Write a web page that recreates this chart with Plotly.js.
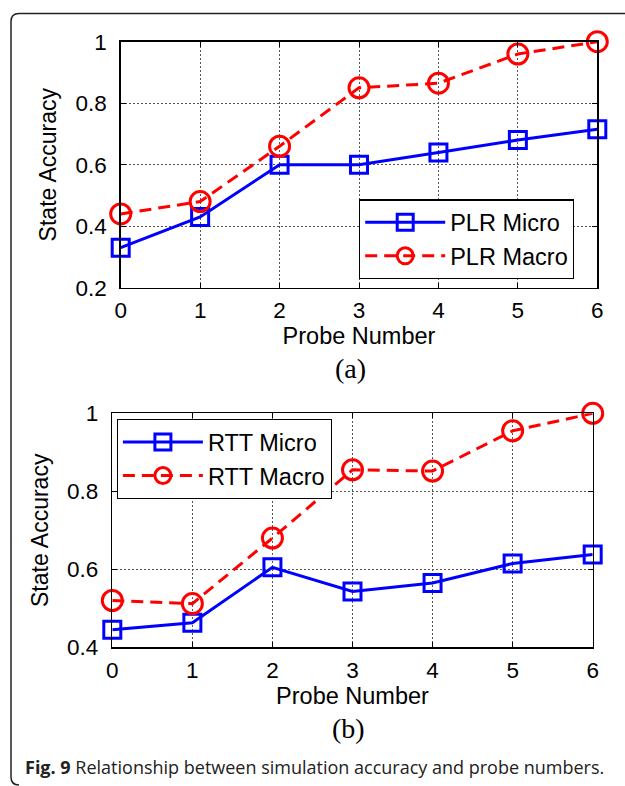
<!DOCTYPE html>
<html>
<head>
<meta charset="utf-8">
<script src="https://cdn.plot.ly/plotly-3.0.1.min.js"></script>
<style>
  html, body { margin: 0; padding: 0; background: #ffffff; }
  #chart { width: 625px; height: 786px; }
</style>
</head>
<body>
<div id="chart"></div>
<script>
// ---- data ----
const probeNumbers = [0, 1, 2, 3, 4, 5, 6];
const plrMicro = [0.33, 0.43, 0.60, 0.60, 0.64, 0.68, 0.715];
const plrMacro = [0.44, 0.48, 0.66, 0.85, 0.865, 0.96, 1.00];
const rttMicro = [0.445, 0.463, 0.605, 0.543, 0.565, 0.615, 0.638];
const rttMacro = [0.52, 0.512, 0.68, 0.855, 0.852, 0.955, 1.00];

const xTickVals = [0, 1, 2, 3, 4, 5, 6];
const xTickText = ["0", "1", "2", "3", "4", "5", "6"];
const yTickValsA = [0.2, 0.4, 0.6, 0.8, 1.0];
const yTickTextA = ["0.2", "0.4", "0.6", "0.8", "1"];
const yTickValsB = [0.4, 0.6, 0.8, 1.0];
const yTickTextB = ["0.4", "0.6", "0.8", "1"];

const seriesNames = ["PLR Micro", "PLR Macro", "RTT Micro", "RTT Macro"];
const xTitle = "Probe Number";
const yTitle = "State Accuracy";
const panelLabels = ["(a)", "(b)"];
const captionBold = "Fig. 9";
const captionText = " Relationship between simulation accuracy and probe numbers.";

// ---- styling helpers ----
const W = 625, H = 786;
const px = v => v / W;
const py = v => 1 - v / H;

const BLUE = "#0000ff", RED = "#ff0000";
const sansFont = "Liberation Sans, Arial, Helvetica, sans-serif";

function microTrace(x, y, name, xa, ya, legend) {
  return {
    x: x, y: y, name: name, xaxis: xa, yaxis: ya, legend: legend,
    legendgroup: name,
    type: "scatter", mode: "lines+markers", cliponaxis: false,
    line: { color: BLUE, width: 3 },
    marker: { symbol: "square-open", size: 17, color: BLUE, line: { color: BLUE, width: 3 } }
  };
}
function macroTrace(x, y, name, xa, ya, legend) {
  return {
    x: x, y: y, name: name, xaxis: xa, yaxis: ya, legend: legend,
    legendgroup: name,
    type: "scatter", mode: "lines+markers", cliponaxis: false,
    line: { color: RED, width: 3, dash: "12px,7px" },
    marker: { symbol: "circle-open", size: 20, color: RED, line: { color: RED, width: 3 } }
  };
}

const traces = [
  microTrace(probeNumbers, plrMicro, seriesNames[0], "x", "y", "legend"),
  macroTrace(probeNumbers, plrMacro, seriesNames[1], "x", "y", "legend"),
  microTrace(probeNumbers, rttMicro, seriesNames[2], "x2", "y2", "legend2"),
  macroTrace(probeNumbers, rttMacro, seriesNames[3], "x2", "y2", "legend2")
];

function xAxis(domain, anchor) {
  return {
    domain: domain, anchor: anchor, range: [0, 6],
    tickmode: "array", tickvals: xTickVals, ticktext: xTickText,
    ticks: "inside", ticklen: 5, tickwidth: 1, tickcolor: "#000",
    showline: true, linecolor: "#000", linewidth: 1.5, mirror: "ticks",
    showgrid: true, gridcolor: "#555", gridwidth: 1, griddash: "2px,2px",
    zeroline: false,
    tickfont: { family: sansFont, size: 22.5, color: "#000" },
    ticklabelstandoff: 2,
    title: { text: xTitle, font: { family: sansFont, size: 23.5, color: "#000" }, standoff: 1 }
  };
}
function yAxis(domain, anchor, range, vals, text) {
  return {
    domain: domain, anchor: anchor, range: range,
    tickmode: "array", tickvals: vals, ticktext: text,
    ticks: "inside", ticklen: 5, tickwidth: 1, tickcolor: "#000",
    showline: true, linecolor: "#000", linewidth: 1.5, mirror: "ticks",
    showgrid: true, gridcolor: "#555", gridwidth: 1, griddash: "2px,2px",
    zeroline: false,
    tickfont: { family: sansFont, size: 22.5, color: "#000" },
    ticklabelstandoff: 8,
    title: { text: yTitle, font: { family: sansFont, size: 23, color: "#000" }, standoff: 12 }
  };
}

const legendBase = {
  bgcolor: "#ffffff", bordercolor: "#000", borderwidth: 1.2,
  font: { family: sansFont, size: 23.5, color: "#000" },
  xanchor: "left", yanchor: "top", itemwidth: 80, tracegroupgap: 9,
  traceorder: "normal"
};

const layout = {
  width: W, height: H,
  margin: { l: 0, r: 0, t: 0, b: 0 },
  paper_bgcolor: "#ffffff", plot_bgcolor: "#ffffff",
  showlegend: true,
  xaxis: xAxis([px(120.7), px(597.3)], "y"),
  yaxis: yAxis([py(287.7), py(41.7)], "x", [0.2, 1.0], yTickValsA, yTickTextA),
  xaxis2: xAxis([px(112.3), px(592.7)], "y2"),
  yaxis2: yAxis([py(647.3), py(413.3)], "x2", [0.4, 1.0], yTickValsB, yTickTextB),
  legend: Object.assign({}, legendBase, { x: px(359), y: py(199.3) }),
  legend2: Object.assign({}, legendBase, { x: px(116.7), y: py(419) }),
  annotations: [
    { text: panelLabels[0], xref: "paper", yref: "paper", x: px(350), y: py(368),
      xanchor: "center", yanchor: "middle", showarrow: false,
      font: { family: "Liberation Serif, Times New Roman, serif", size: 28, color: "#000" } },
    { text: panelLabels[1], xref: "paper", yref: "paper", x: px(348), y: py(728),
      xanchor: "center", yanchor: "middle", showarrow: false,
      font: { family: "Liberation Serif, Times New Roman, serif", size: 28, color: "#000" } },
    { text: "<b>" + captionBold + "</b>" + captionText, xref: "paper", yref: "paper",
      x: px(23), y: py(767), xanchor: "left", yanchor: "middle", showarrow: false,
      font: { family: "Open Sans, Noto Sans, sans-serif", size: 18, color: "#222" } }
  ],
  shapes: [
    { type: "path", xref: "paper", yref: "paper", layer: "above",
      path: "M " + px(625) + "," + py(13.5) + " L " + px(19) + "," + py(13.5) +
            " Q " + px(11) + "," + py(13.5) + " " + px(11) + "," + py(21.5) +
            " L " + px(11) + "," + py(777) +
            " Q " + px(11) + "," + py(785) + " " + px(19) + "," + py(785),
      line: { color: "#222", width: 1.5 } }
  ]
};

Plotly.newPlot("chart", traces, layout, { displayModeBar: false, staticPlot: true });
</script>
</body>
</html>
